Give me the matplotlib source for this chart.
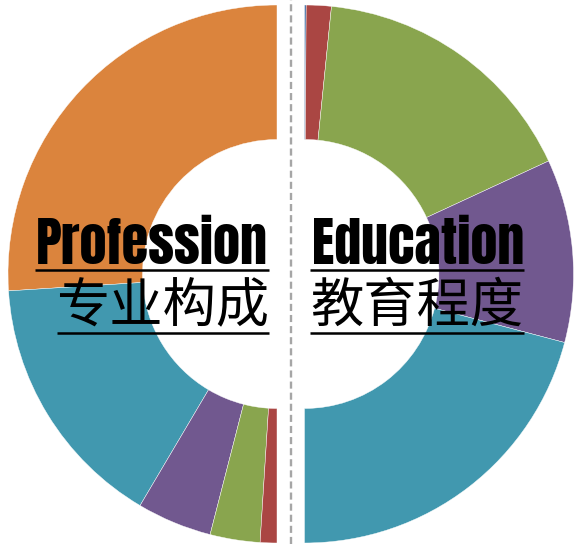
import matplotlib
matplotlib.use("Agg")
import matplotlib.pyplot as plt

# Profession mix (left half, counter-clockwise from 12 o'clock), % of the half
prof_values = [52, 31, 9, 6, 2]
prof_colors = ["#DB843D", "#4198AF", "#71588F", "#89A54E", "#AA4643"]

# Education level (right half, clockwise from 12 o'clock), % of the half
edu_values = [0.2, 3, 33, 22, 41.8]
edu_colors = ["#4572A7", "#AA4643", "#89A54E", "#71588F", "#4198AF"]

titles_en = ["Profession", "Education"]
titles_zh = ["专业构成", "教育程度"]

W, H = 575, 544
fig = plt.figure(figsize=(W / 100, H / 100), dpi=100)
ax = fig.add_axes([0, 0, 1, 1])

R, hole = 269, 134.5
cy = H - 274
wp = dict(width=R - hole, edgecolor="white", linewidth=0.3)

ax.pie([v / 200 for v in prof_values], colors=prof_colors, startangle=90,
       counterclock=True, normalize=False, radius=R, center=(277, cy),
       wedgeprops=wp)
ax.pie([v / 200 for v in edu_values], colors=edu_colors, startangle=90,
       counterclock=False, normalize=False, radius=R, center=(304.5, cy),
       wedgeprops=wp)

ax.set_xlim(0, W)
ax.set_ylim(0, H)
ax.set_aspect("equal")
ax.axis("off")

# dashed divider
ax.plot([291, 291], [0, H], color="#A6A6A6", linewidth=1.7,
        dashes=(3.0, 1.7), solid_capstyle="butt")

en_font = dict(family=["Anton", "DejaVu Sans"])
zh_font = dict(family=["Noto Sans CJK SC", "DejaVu Sans"])

renderer = fig.canvas.get_renderer()


def fit_text(x, y, s, width_px, ha, font):
    t = ax.text(x, y, s, ha=ha, va="baseline", fontsize=40, **font)
    w = t.get_window_extent(renderer).width
    t.set_fontsize(40 * width_px / w)
    return t


fit_text(268, H - 263.5, titles_en[0], 232, "right", en_font)
fit_text(312, H - 263.5, titles_en[1], 212, "left", en_font)
fit_text(269, H - 322, titles_zh[0], 213, "right", zh_font)
fit_text(310, H - 322, titles_zh[1], 213, "left", zh_font)

# underlines
for x0, x1 in [(35, 269), (310, 524)]:
    ax.plot([x0, x1], [H - 270, H - 270], color="black", linewidth=1.8,
            solid_capstyle="butt")
for x0, x1 in [(57, 269), (310, 524)]:
    ax.plot([x0, x1], [H - 333, H - 333], color="black", linewidth=1.8,
            solid_capstyle="butt")

fig.savefig("out.png", dpi=100)
